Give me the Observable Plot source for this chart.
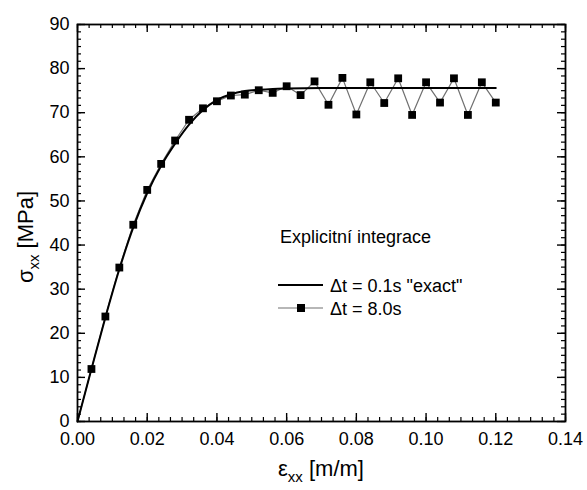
<!DOCTYPE html>
<html>
<head>
<meta charset="utf-8">
<script src="https://cdn.jsdelivr.net/npm/d3@7"></script>
<script src="https://cdn.jsdelivr.net/npm/@observablehq/plot@0.6"></script>
<style>
  html, body { margin: 0; padding: 0; background: #fff; }
  #chart svg { display: block; }
</style>
</head>
<body>
<div id="chart"></div>
<script>
// ---- data ----
const xTickValues = [0, 0.02, 0.04, 0.06, 0.08, 0.10, 0.12, 0.14];
const yTickValues = [0, 10, 20, 30, 40, 50, 60, 70, 80, 90];

// "exact" solution, dt = 0.1 s
const strainExact = [0, 0.004, 0.008, 0.012, 0.016, 0.020, 0.024, 0.028, 0.032, 0.036, 0.040, 0.044, 0.048, 0.052, 0.056, 0.060, 0.070, 0.080, 0.090, 0.100, 0.110, 0.120];
const stressExact = [0, 11.9, 23.6, 34.5, 44.0, 51.8, 58.0, 63.0, 67.3, 70.6, 72.9, 74.2, 74.9, 75.2, 75.4, 75.5, 75.6, 75.6, 75.6, 75.6, 75.6, 75.6];

// explicit integration, dt = 8.0 s
const strainCoarse = [0, 0.004, 0.008, 0.012, 0.016, 0.020, 0.024, 0.028, 0.032, 0.036, 0.040, 0.044, 0.048, 0.052, 0.056, 0.060, 0.064, 0.068, 0.072, 0.076, 0.080, 0.084, 0.088, 0.092, 0.096, 0.100, 0.104, 0.108, 0.112, 0.116, 0.120];
const stressCoarse = [0, 11.9, 23.8, 34.9, 44.6, 52.5, 58.4, 63.7, 68.4, 71.0, 72.6, 73.9, 74.1, 75.1, 74.5, 76.0, 74.0, 77.1, 71.8, 77.9, 69.6, 76.9, 72.2, 77.8, 69.5, 76.9, 72.3, 77.8, 69.5, 76.9, 72.3];

const legendTitle = "Explicitní integrace";
const seriesNames = ["\u0394t = 0.1s \"exact\"", "\u0394t = 8.0s"];

// ---- build tables ----
const exact = strainExact.map((x, i) => ({x, y: stressExact[i]}));
const coarse = strainCoarse.map((x, i) => ({x, y: stressCoarse[i]}));
const coarseMarkers = coarse.filter(d => d.x > 0);

const xMinor = d3.range(0, 43).map(i => i * 0.14 / 42);
const yMinor = d3.range(0, 55).map(i => i * 90 / 54);

// ---- layout ----
const W = 587, H = 490;
const mL = 77, mR = 22, mT = 24, mB = 69;
const plotH = H - mT - mB;
const plotW = W - mL - mR;
const FONT = "'Liberation Sans', Arial, Helvetica, sans-serif";

const chart = Plot.plot({
  width: W,
  height: H,
  marginLeft: mL,
  marginRight: mR,
  marginTop: mT,
  marginBottom: mB,
  style: {fontFamily: FONT, fontSize: "18px", background: "#fff", color: "#000"},
  x: {domain: [0, 0.14]},
  y: {domain: [0, 90]},
  marks: [
    // tick labels
    Plot.axisX(xTickValues, {anchor: "bottom", tickSize: 0, tickPadding: 11, tickFormat: d3.format(".2f"), fontSize: 18, label: null}),
    Plot.axisY(yTickValues, {anchor: "left", tickSize: 0, tickPadding: 8, tickFormat: d3.format("d"), fontSize: 18, label: null}),
    // inward ticks (bottom / top)
    Plot.tickX(xMinor, {x: d => d, insetTop: plotH - 4, strokeWidth: 1.2}),
    Plot.tickX(xTickValues, {x: d => d, insetTop: plotH - 8, strokeWidth: 1.4}),
    Plot.tickX(xMinor, {x: d => d, insetBottom: plotH - 4, strokeWidth: 1.2}),
    Plot.tickX(xTickValues, {x: d => d, insetBottom: plotH - 8, strokeWidth: 1.4}),
    // inward ticks (left / right)
    Plot.tickY(yMinor, {y: d => d, insetRight: plotW - 4, strokeWidth: 1.2}),
    Plot.tickY(yTickValues, {y: d => d, insetRight: plotW - 8, strokeWidth: 1.4}),
    Plot.tickY(yMinor, {y: d => d, insetLeft: plotW - 4, strokeWidth: 1.2}),
    Plot.tickY(yTickValues, {y: d => d, insetLeft: plotW - 8, strokeWidth: 1.4}),
    // data
    Plot.line(coarse, {x: "x", y: "y", stroke: "#707070", strokeWidth: 1.2}),
    Plot.line(exact, {x: "x", y: "y", stroke: "#000", strokeWidth: 2, curve: "monotone-x"}),
    Plot.dot(coarseMarkers, {x: "x", y: "y", symbol: "square", fill: "#000", stroke: "none", r: 4.4}),
    Plot.frame({stroke: "#000", strokeWidth: 1.8})
  ]
});

document.getElementById("chart").appendChild(chart);

// ---- axis titles & legend (real text, appended to the SVG) ----
const svg = d3.select(chart);
const g = svg.append("g").attr("font-family", FONT).attr("fill", "#000");

// x axis title: ε_xx [m/m]
const xt = g.append("text")
  .attr("x", mL + plotW / 2)
  .attr("y", 476)
  .attr("text-anchor", "middle")
  .attr("font-size", 22);
xt.append("tspan").text("\u03b5");
xt.append("tspan").attr("font-size", 15).attr("dy", 6).text("xx");
xt.append("tspan").attr("dy", -6).text(" [m/m]");

// y axis title: σ_xx [MPa]
const yt = g.append("text")
  .attr("transform", `translate(33, 237) rotate(-90)`)
  .attr("text-anchor", "middle")
  .attr("font-size", 22);
yt.append("tspan").text("\u03c3");
yt.append("tspan").attr("font-size", 15).attr("dy", 6).text("xx");
yt.append("tspan").attr("dy", -6).text(" [MPa]");

// legend
const lg = g.append("g").attr("text-anchor", "start");
lg.append("text").attr("x", 280).attr("y", 243).attr("font-size", 18).attr("text-anchor", "start").text(legendTitle);
lg.append("line").attr("x1", 278).attr("x2", 323).attr("y1", 285).attr("y2", 285)
  .attr("stroke", "#000").attr("stroke-width", 2);
lg.append("text").attr("x", 330).attr("y", 291.5).attr("font-size", 18).attr("text-anchor", "start").text(seriesNames[0]);
lg.append("line").attr("x1", 278).attr("x2", 323).attr("y1", 308).attr("y2", 308)
  .attr("stroke", "#707070").attr("stroke-width", 1.2);
lg.append("rect").attr("x", 297).attr("y", 304).attr("width", 8).attr("height", 8).attr("fill", "#000");
lg.append("text").attr("x", 330).attr("y", 314.5).attr("font-size", 18).attr("text-anchor", "start").text(seriesNames[1]);
</script>
</body>
</html>
